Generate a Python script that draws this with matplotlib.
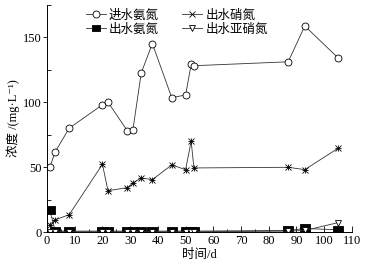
import matplotlib
matplotlib.use("Agg")
import matplotlib.pyplot as plt
from matplotlib.ticker import MultipleLocator

plt.rcParams['font.family'] = ['Liberation Serif', 'Noto Sans CJK SC', 'DejaVu Sans']
plt.rcParams['font.size'] = 9

days = [1, 3, 8, 20, 22, 29, 31, 34, 38, 45, 50, 52, 53, 87, 93, 105]
inf_nh4 = [50, 62, 80, 98, 100, 78, 79, 122.5, 145, 103.5, 105.5, 129, 128, 131, 158.5, 134]
eff_no3 = [6, 9.7, 13.6, 52.3, 32, 34.4, 38, 41.8, 40.5, 51.8, 48.2, 70, 49.5, 50, 48.2, 64.6]
eff_nh4 = [17, 1, 1, 1, 1, 1, 1, 1, 1, 1, 1, 1, 1, 1.5, 3, 2]
eff_no2 = [0.5, 0.5, 0.5, 0.5, 0.5, 0.5, 0.5, 0.5, 0.5, 0.5, 0.5, 0.5, 0.5, 1, 1.5, 7.5]

labels = ['进水氨氮', '出水氨氮', '出水硝氮', '出水亚硝氮']

fig = plt.figure(figsize=(3.76, 2.65), dpi=100)
ax = fig.add_axes([0.125, 0.123, 0.811, 0.86])

lc = '#333333'
rect = [(-1.25, -1), (1.25, -1), (1.25, 1), (-1.25, 1), (-1.25, -1)]
ax.plot(days, inf_nh4, color=lc, lw=0.6, marker='o', ms=5, mfc='white', mec='black', mew=0.6, label=labels[0])
ax.plot(days, eff_nh4, color=lc, lw=0.6, marker=rect, ms=7.5, mfc='black', mec='black', mew=0.6, label=labels[1])
ax.plot(days, eff_no3, color=lc, lw=0.6, marker='x', ms=5, mec='black', mew=0.6, label=labels[2])
ax.plot(days, eff_no3, color='none', lw=0, marker='+', ms=5, mec='black', mew=0.6)
ax.plot(days, eff_no2, color=lc, lw=0.6, marker='v', ms=4.5, mfc='white', mec='black', mew=0.6, label=labels[3])

ax.set_xlim(0, 110)
ax.set_ylim(0, 175)
ax.xaxis.set_major_locator(MultipleLocator(10))
ax.xaxis.set_minor_locator(MultipleLocator(5))
ax.yaxis.set_major_locator(MultipleLocator(50))
ax.yaxis.set_minor_locator(MultipleLocator(25))
ax.tick_params(axis='x', which='major', direction='in', length=4, width=0.6, labelsize=9, pad=2)
ax.tick_params(axis='x', which='minor', direction='in', length=2, width=0.6)
ax.tick_params(axis='y', which='major', direction='out', length=3, width=0.6, labelsize=9, pad=1)
ax.tick_params(axis='y', which='minor', direction='in', length=3, width=0.6)
for s in ['top', 'right']:
    ax.spines[s].set_visible(False)
for s in ['left', 'bottom']:
    ax.spines[s].set_linewidth(0.7)

ax.set_xlabel('时间/d', fontsize=9, labelpad=1)
ax.set_ylabel('浓度 /(mg·L⁻¹)', fontsize=9, labelpad=2)

leg = ax.legend(ncol=2, frameon=False, loc='upper left', bbox_to_anchor=(0.11, 1.0),
                fontsize=9, handlelength=1.6, handletextpad=0.25, columnspacing=1.9,
                labelspacing=0.15, borderaxespad=0)
leg.legend_handles[1].set_markersize(6)

fig.savefig('out.png', dpi=100)
